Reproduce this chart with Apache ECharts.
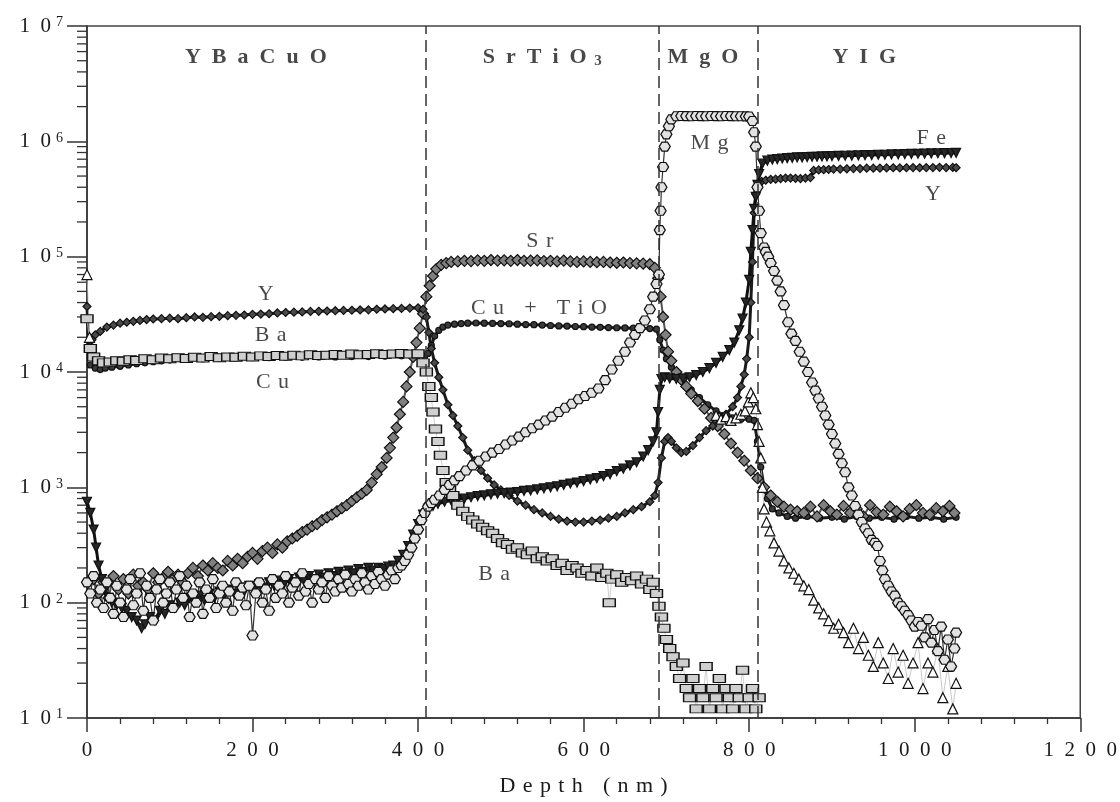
<!DOCTYPE html>
<html>
<head>
<meta charset="utf-8">
<script src="https://cdn.jsdelivr.net/npm/echarts@6/dist/echarts.min.js"></script>
<style>
  html, body { margin: 0; padding: 0; background: #fff; }
  #chart { width: 1120px; height: 802px; }
</style>
</head>
<body>
<div id="chart"></div>
<script>
// SIMS depth profile, counts vs depth (nm)
const yData = [[0,37000],[2,16500],[6,19000],[10,21000],[16,22500],[24,24500],[32,25500],[40,26500],[48,27000],[56,27500],[64,28000],[72,28500],[80,28800],[90,29000],[100,29300],[110,29000],[120,29600],[130,30000],[140,29800],[150,30200],[160,30400],[170,30800],[180,31000],[190,31200],[200,31600],[210,31800],[220,32000],[230,32500],[240,32800],[250,33000],[260,33200],[270,33500],[280,33600],[290,33800],[300,34000],[310,34200],[320,34300],[330,34500],[340,34600],[350,35000],[360,35200],[370,35400],[380,35600],[390,35800],[400,36000],[406,35000],[410,30000],[413,22000],[416,16000],[420,12000],[425,9000],[430,7000],[436,5200],[442,4200],[448,3400],[454,2700],[460,2100],[468,1700],[476,1400],[484,1200],[492,1050],[500,950],[510,850],[520,760],[530,700],[540,640],[550,600],[560,560],[570,530],[580,510],[590,500],[600,500],[610,510],[620,520],[630,540],[640,560],[650,600],[660,640],[670,680],[680,750],[686,850],[690,1100],[694,1800],[698,2500],[702,2700],[706,2500],[712,2200],[718,2000],[724,2050],[732,2300],[740,2700],[748,3100],[756,3400],[764,3800],[772,4300],[780,5000],[786,6000],[790,7500],[794,9500],[797,13000],[800,20000],[802,40000],[804,90000],[806,240000],[808,350000],[811,420000],[815,450000],[820,460000],[826,468000],[832,470000],[838,475000],[844,480000],[850,480000],[856,478000],[862,475000],[868,480000],[874,485000],[878,560000],[884,565000],[890,568000],[896,570000],[902,575000],[910,575000],[918,578000],[926,580000],[934,580000],[942,585000],[950,585000],[958,585000],[966,588000],[974,590000],[982,588000],[990,590000],[998,592000],[1006,590000],[1014,592000],[1022,592000],[1030,595000],[1038,592000],[1046,594000],[1050,590000]];

const srData = [[8,160],[14,120],[20,150],[26,110],[32,170],[38,130],[44,160],[50,120],[56,175],[62,140],[68,150],[74,130],[80,180],[86,150],[92,165],[98,185],[104,160],[110,175],[116,150],[122,180],[128,200],[134,170],[140,210],[146,190],[152,220],[158,200],[164,190],[170,230],[176,210],[182,240],[188,220],[194,250],[200,270],[206,240],[212,280],[218,300],[224,270],[230,320],[236,300],[242,340],[248,360],[254,380],[260,410],[266,430],[272,460],[278,480],[284,520],[290,550],[296,580],[302,620],[308,660],[314,700],[320,760],[326,820],[332,880],[338,950],[344,1100],[350,1300],[356,1500],[362,1800],[366,2200],[370,2700],[374,3300],[378,4300],[382,5500],[386,7500],[390,10000],[394,13500],[398,18000],[402,24000],[406,32000],[410,45000],[414,56000],[418,68000],[422,78000],[428,85000],[434,88000],[440,90000],[448,91000],[456,92000],[464,91500],[472,93000],[480,92000],[488,93500],[496,92500],[504,93000],[512,92000],[520,93500],[528,92000],[536,92500],[544,93000],[552,91500],[560,92000],[568,91000],[576,92500],[584,91000],[592,90000],[600,91000],[608,90000],[616,89500],[624,90000],[632,89000],[640,88500],[648,89000],[656,88000],[664,87500],[672,87000],[680,86000],[686,80000],[690,65000],[693,45000],[696,30000],[699,21000],[702,15000],[706,12500],[712,10000],[718,8600],[724,7500],[730,6500],[738,5600],[746,4800],[754,4000],[762,3400],[770,2900],[778,2400],[786,2000],[794,1700],[802,1400],[810,1200],[818,1000],[826,850],[834,750],[842,680],[850,640],[858,620],[866,600],[874,680],[882,560],[890,700],[898,620],[906,580],[914,690],[922,600],[930,650],[938,560],[946,700],[954,610],[962,580],[970,680],[978,620],[986,560],[994,650],[1002,700],[1010,600],[1018,580],[1026,660],[1034,620],[1042,690],[1048,600]];

const baData = [[0,29000],[4,16000],[8,13500],[14,12500],[20,12000],[28,12200],[36,12500],[44,12400],[52,12800],[60,12600],[70,13000],[80,12800],[90,13200],[100,13000],[110,13300],[120,13100],[130,13400],[140,13200],[150,13600],[160,13300],[170,13500],[180,13400],[190,13700],[200,13500],[210,13800],[220,13600],[230,13900],[240,13700],[250,14000],[260,13800],[270,14100],[280,13900],[290,14000],[300,14200],[310,14000],[320,14300],[330,14100],[340,14200],[350,14400],[360,14200],[370,14300],[380,14500],[390,14300],[400,14400],[406,12000],[410,10000],[413,7500],[416,6000],[418,4500],[421,3200],[424,2500],[427,1900],[430,1400],[434,1100],[438,950],[442,850],[448,700],[454,620],[460,560],[466,520],[472,480],[478,450],[484,420],[490,400],[496,360],[502,330],[508,320],[514,290],[520,300],[526,270],[532,260],[538,280],[544,240],[550,250],[556,230],[562,240],[568,210],[574,220],[580,190],[586,210],[592,200],[598,180],[604,190],[610,170],[616,200],[622,165],[628,180],[631,100],[634,160],[640,175],[646,150],[652,165],[658,155],[664,170],[670,145],[676,160],[680,130],[684,150],[688,120],[691,93],[694,75],[697,60],[700,48],[704,40],[708,34],[712,28],[716,22],[720,30],[724,18],[728,15],[732,22],[736,12],[740,18],[744,15],[748,28],[752,12],[756,18],[760,15],[764,22],[768,12],[772,18],[776,15],[780,12],[784,18],[788,15],[792,26],[796,12],[800,15],[804,18],[808,12],[812,15]];

const cuTiOData = [[4,11500],[10,10800],[16,10500],[22,10800],[30,11000],[40,11200],[50,11500],[60,11800],[70,12000],[80,12300],[90,12500],[100,12700],[120,12900],[140,13000],[160,13100],[180,13200],[200,13300],[220,13300],[240,13400],[260,13400],[280,13500],[300,13500],[320,13600],[340,13600],[360,13700],[380,13800],[400,13800],[408,13600],[412,14500],[416,17000],[420,20500],[425,23000],[430,24500],[436,25500],[444,26000],[452,26300],[460,26500],[470,26600],[480,26500],[490,26400],[500,26300],[510,26200],[520,26000],[530,25800],[540,25700],[550,25500],[560,25300],[570,25100],[580,25000],[590,24800],[600,24700],[610,24500],[620,24400],[630,24300],[640,24200],[650,24100],[660,24000],[670,24000],[680,23800],[688,23500],[692,19000],[696,15500],[700,13000],[706,11000],[712,9500],[720,8200],[730,7000],[740,6000],[750,5200],[760,4600],[770,4200],[780,4000],[790,3900],[800,3900],[806,3800],[810,2500],[814,1500],[818,1000],[822,800],[828,650],[836,600],[846,560],[856,540],[870,560],[885,540],[900,550],[915,530],[930,560],[945,540],[960,550],[975,530],[990,560],[1005,540],[1020,550],[1035,530],[1050,550]];

const feData = [[0,750],[4,600],[8,430],[11,300],[14,210],[18,160],[22,130],[26,110],[30,100],[36,95],[42,90],[48,85],[54,75],[60,70],[66,60],[70,65],[76,75],[82,70],[88,85],[94,80],[100,95],[106,90],[112,100],[118,95],[124,110],[130,100],[136,115],[142,105],[148,120],[154,110],[160,125],[166,115],[172,130],[178,120],[184,135],[190,125],[196,140],[202,130],[208,145],[214,135],[220,150],[226,140],[232,155],[238,145],[244,160],[250,150],[256,165],[262,155],[268,170],[274,160],[280,175],[286,165],[292,180],[298,170],[304,185],[310,175],[316,190],[322,180],[328,195],[334,185],[340,200],[346,190],[352,200],[358,195],[364,205],[370,210],[376,230],[382,260],[388,310],[394,390],[400,480],[406,580],[412,650],[418,690],[424,720],[432,750],[440,770],[448,790],[456,800],[464,820],[472,840],[480,850],[488,870],[496,880],[504,890],[512,900],[520,910],[528,930],[536,940],[544,960],[552,980],[560,1000],[568,1020],[576,1050],[584,1080],[592,1100],[600,1130],[608,1170],[616,1200],[624,1250],[632,1300],[640,1380],[648,1450],[656,1550],[664,1650],[672,1850],[678,2100],[684,2500],[688,3000],[690,4500],[692,7000],[694,8700],[698,9000],[704,8800],[712,8700],[720,8800],[728,9000],[736,9400],[744,10000],[752,10800],[760,12000],[768,13500],[776,15500],[782,18000],[788,23000],[792,29000],[796,40000],[800,63000],[802,110000],[804,170000],[806,260000],[808,330000],[810,420000],[812,520000],[816,640000],[822,680000],[828,695000],[834,700000],[840,710000],[846,715000],[852,720000],[858,725000],[864,725000],[870,730000],[876,735000],[882,735000],[888,740000],[894,740000],[900,745000],[908,748000],[916,750000],[924,752000],[932,755000],[940,758000],[948,760000],[956,765000],[964,765000],[972,770000],[980,772000],[988,775000],[996,778000],[1004,780000],[1012,782000],[1020,785000],[1028,788000],[1036,790000],[1044,792000],[1050,795000]];

const mgData = [[0,150],[4,120],[8,170],[12,100],[16,130],[20,90],[24,150],[28,110],[32,80],[36,140],[40,100],[44,75],[48,130],[52,160],[56,95],[60,120],[64,180],[68,85],[72,140],[76,110],[80,70],[84,130],[88,160],[92,100],[96,120],[100,150],[104,90],[108,130],[112,170],[116,110],[120,140],[124,75],[128,120],[132,100],[136,150],[140,80],[144,130],[148,110],[152,160],[156,90],[160,120],[164,140],[168,100],[172,125],[176,85],[180,150],[184,115],[188,135],[192,95],[196,140],[200,52],[204,120],[208,150],[212,100],[216,130],[220,85],[224,160],[228,110],[232,140],[236,120],[240,170],[244,100],[248,135],[252,150],[256,115],[260,180],[264,125],[268,145],[272,100],[276,160],[280,130],[284,150],[288,110],[292,170],[296,140],[300,125],[304,160],[308,135],[312,175],[316,145],[320,125],[324,160],[328,140],[332,180],[336,150],[340,130],[344,170],[348,145],[352,185],[356,160],[360,140],[364,175],[368,190],[372,160],[376,200],[380,210],[384,230],[388,260],[392,300],[396,360],[400,430],[404,520],[408,600],[412,680],[416,730],[420,780],[426,850],[432,950],[438,1050],[444,1150],[450,1250],[458,1400],[466,1550],[474,1700],[482,1850],[490,2000],[498,2150],[506,2350],[514,2550],[522,2750],[530,3000],[538,3250],[546,3500],[554,3800],[562,4100],[570,4500],[578,4900],[586,5300],[594,5800],[602,6200],[610,6600],[618,7200],[626,8500],[634,10500],[642,12500],[650,15000],[656,18000],[662,21000],[668,24000],[674,28000],[680,35000],[684,45000],[688,58000],[691,70000],[692,170000],[693,250000],[694,400000],[696,600000],[698,900000],[700,1150000],[703,1350000],[706,1550000],[712,1650000],[718,1660000],[724,1655000],[730,1650000],[736,1660000],[742,1655000],[748,1650000],[754,1660000],[760,1655000],[766,1650000],[772,1660000],[778,1655000],[784,1650000],[790,1650000],[796,1645000],[800,1640000],[804,1500000],[806,1200000],[808,900000],[810,400000],[812,250000],[814,160000],[818,120000],[820,110000],[823,100000],[826,88000],[830,75000],[834,62000],[838,50000],[842,38000],[847,27000],[851,21500],[856,18600],[861,15000],[866,12300],[871,10000],[876,8100],[880,6900],[884,5900],[888,5000],[892,4200],[896,3500],[900,2900],[904,2400],[908,1950],[912,1620],[916,1350],[920,1000],[924,850],[928,690],[932,580],[936,500],[940,440],[944,400],[948,350],[952,330],[955,310],[958,230],[961,190],[964,160],[968,140],[972,125],[976,115],[980,100],[984,93],[988,85],[992,78],[996,70],[1000,62],[1004,68],[1008,63],[1012,50],[1016,72],[1020,45],[1024,58],[1028,38],[1032,62],[1036,32],[1040,48],[1044,28],[1048,40],[1050,55]];

const tiSurface = [[0,70000],[3,20000]];
const tiDeep = [[760,4200],[766,3900],[772,4100],[778,3800],[784,4000],[790,4300],[795,4600],[799,5500],[802,6600],[805,6000],[808,4800],[810,3500],[812,2500],[814,1800],[816,1000],[818,650],[821,500],[825,420],[830,330],[836,280],[842,230],[848,200],[854,180],[860,160],[866,140],[872,130],[878,105],[884,90],[890,80],[896,70],[902,60],[908,65],[914,55],[920,45],[926,60],[932,40],[938,50],[944,35],[950,28],[956,45],[962,30],[968,22],[974,40],[980,25],[986,35],[992,20],[998,30],[1004,45],[1010,18],[1016,30],[1022,25],[1028,40],[1034,15],[1040,28],[1046,12],[1050,20]];

// layer boundaries and annotations
const layerBounds = [409, 691, 810];
const layerNames = ['YBaCuO', 'SrTiO3', 'MgO', 'YIG'];
const layerPos = [[204, 5.4e6], [550, 5.4e6], [744, 5.4e6], [939, 5.4e6]];
const curveNames = ['Y', 'Ba', 'Cu', 'Sr', 'Cu + TiO', 'Mg', 'Fe', 'Y', 'Ba'];
const curvePos = [[216, 4.7e4], [222, 2.1e4], [224, 8.1e3], [547, 1.35e5], [546, 3.55e4], [752, 9.7e5], [1020, 1.07e6], [1022, 3.5e5], [492, 178]];

const decades = [10, 100, 1000, 10000, 100000, 1000000];
const minorSteps = [2, 3, 4, 5, 6, 7, 8, 9];
const minorTickValues = [];
decades.forEach(d => minorSteps.forEach(m => minorTickValues.push([0, d * m])));

const serif = 'Liberation Serif, Times New Roman, serif';
const EN = '\u2002';
const THIRD = '\u2004';
const spaced = (s, sep) => s.split('').join(sep);

const hexagon = 'path://M-10,0 L-5,-8.66 L5,-8.66 L10,0 L5,8.66 L-5,8.66 Z';

function profile(name, data, symbol, size, fill, line, extra) {
  return Object.assign({
    name: name,
    type: 'line',
    data: data,
    symbol: symbol,
    symbolSize: size,
    showSymbol: true,
    showAllSymbol: true,
    itemStyle: { color: fill, borderColor: '#111', borderWidth: 1.2 },
    lineStyle: line,
    emphasis: { disabled: true },
    z: 3,
  }, extra || {})
}

const chart = echarts.init(document.getElementById('chart'));

chart.setOption({
  animation: false,
  backgroundColor: '#fff',
  grid: {
    left: 87, right: 33, top: 26, bottom: 83,
    show: true, borderColor: '#444', borderWidth: 1.5,
  },
  xAxis: {
    type: 'value',
    min: 0,
    max: 1200,
    interval: 200,
    name: spaced('Depth (nm)', THIRD),
    nameLocation: 'middle',
    nameGap: 57,
    nameTextStyle: { fontFamily: serif, fontSize: 22, color: '#1a1a1a' },
    axisLine: { lineStyle: { color: '#333', width: 1.5 } },
    axisTick: { length: 14, lineStyle: { color: '#333', width: 1.5 } },
    minorTick: { show: true, splitNumber: 5, length: 6, lineStyle: { color: '#333', width: 1.3 } },
    splitLine: { show: false },
    axisLabel: {
      margin: 22,
      fontFamily: serif,
      fontSize: 21,
      color: '#1a1a1a',
      formatter: v => spaced(String(v), EN),
    },
  },
  yAxis: {
    type: 'log',
    logBase: 10,
    min: 10,
    max: 1e7,
    interval: 1,
    axisLine: { show: true, lineStyle: { color: '#333', width: 1.5 } },
    axisTick: { show: true, length: 20, lineStyle: { color: '#333', width: 1.5 } },
    splitLine: { show: false },
    axisLabel: {
      margin: 24,
      formatter: v => '{b|1' + EN + '0}{s|' + Math.round(Math.log10(v)) + '}',
      rich: {
        b: { fontFamily: serif, fontSize: 21, color: '#1a1a1a' },
        s: { fontFamily: serif, fontSize: 14, color: '#1a1a1a', verticalAlign: 'top', padding: [0, 0, 0, 5] },
      },
    },
  },
  series: [
    {
      // minor log ticks on the y axis
      type: 'custom',
      silent: true,
      clip: false,
      data: minorTickValues,
      renderItem: (params, api) => {
        const p = api.coord([api.value(0), api.value(1)]);
        return {
          type: 'line',
          shape: { x1: p[0] - 10, y1: p[1], x2: p[0], y2: p[1] },
          style: { stroke: '#333', lineWidth: 1.3 },
        }
      },
      z: 1,
    },
    profile('Cu + TiO', cuTiOData, 'circle', 6, '#3a3a3a', { color: '#1a1a1a', width: 3 }, {
      markLine: {
        silent: true,
        symbol: 'none',
        label: { show: false },
        lineStyle: { color: '#333', width: 1.5, type: [12, 6] },
        data: layerBounds.map(x => ({ xAxis: x })),
      },
    }),
    profile('Sr', srData, 'diamond', 11, '#808080', { color: '#555', width: 2 }),
    profile('Y', yData, 'diamond', 8, '#4a4a4a', { color: '#1a1a1a', width: 3 }),
    profile('Fe', feData, 'triangle', 9, '#262626', { color: '#111', width: 3 }, { symbolRotate: 180 }),
    profile('Ba', baData, 'rect', [12, 8], '#cfcfcf', { color: '#c4c4c4', width: 0.8 }),
    profile('Ti', tiSurface, 'triangle', 10, '#fff', { color: '#bbb', width: 0.8 }),
    profile('Ti deep', tiDeep, 'triangle', 10, '#fff', { color: '#bbb', width: 0.8 }),
    profile('Mg', mgData, hexagon, [11, 9], '#e2e2e2', { color: '#333', width: 1.2 }),
    {
      // layer names
      type: 'scatter',
      silent: true,
      symbolSize: 1,
      itemStyle: { color: 'rgba(0,0,0,0)' },
      data: layerPos.map((p, i) => [p[0], p[1], layerNames[i]]),
      label: {
        show: true,
        position: 'inside',
        formatter: p => {
          const n = p.data[2];
          const m = n.match(/^(.*?)(\d)$/);
          if (m) return '{t|' + spaced(m[1], EN) + '}{sub|' + EN + m[2] + '}';
          return '{t|' + spaced(n, EN) + '}';
        },
        rich: {
          t: { fontFamily: serif, fontSize: 22, fontWeight: 'bold', color: '#1a1a1a' },
          sub: { fontFamily: serif, fontSize: 15, fontWeight: 'bold', color: '#1a1a1a', verticalAlign: 'bottom', padding: [8, 0, 0, 0] },
        },
      },
      z: 10,
    },
    {
      // curve names
      type: 'scatter',
      silent: true,
      symbolSize: 1,
      itemStyle: { color: 'rgba(0,0,0,0)' },
      data: curvePos.map((p, i) => [p[0], p[1], curveNames[i]]),
      label: {
        show: true,
        position: 'inside',
        fontFamily: serif,
        fontSize: 22,
        color: '#1a1a1a',
        formatter: p => spaced(p.data[2], THIRD),
      },
      z: 10,
    },
  ],
});
</script>
</body>
</html>
